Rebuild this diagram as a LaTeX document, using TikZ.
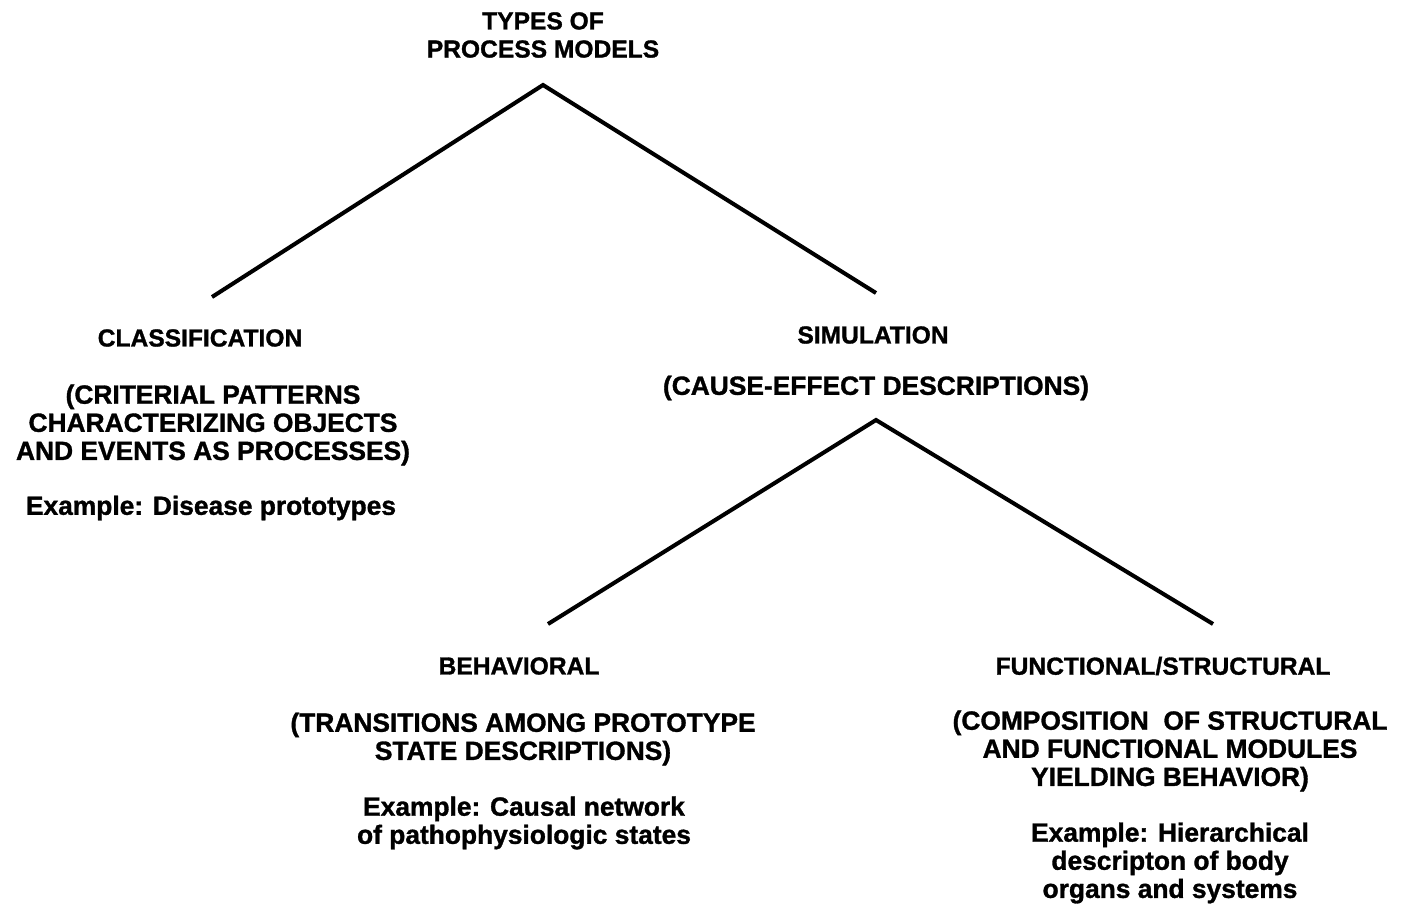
\documentclass[tikz,border=0pt]{standalone}
\usepackage{fontspec}
\setmainfont[BoldFeatures={FakeBold=1.2}]{Liberation Sans}
\begin{document}
\begin{tikzpicture}[x=0.02cm,y=-0.02cm,
        head/.style={font=\fontsize{14}{16}\selectfont\bfseries,align=center,inner sep=0pt},
        txt/.style={font=\fontsize{15}{16}\selectfont\bfseries,align=center,inner sep=0pt},
        branch/.style={line width=2.3pt,line join=miter}]
            \useasboundingbox (0,0) rectangle (1409,904);
            % title and first split
            \node[head] (title) at (543,35) {TYPES OF\\PROCESS MODELS};
            \coordinate (top) at (543,85);
            \coordinate (cl) at (212,297);
            \coordinate (cr) at (876,293);
            % classification
            \node[head] (class) at (200,338) {CLASSIFICATION};
            \node[txt] (classdesc) at (213,425) {(CRITERIAL PATTERNS\\CHARACTERIZING OBJECTS\\AND EVENTS AS PROCESSES)};
            \node[txt] (classex) at (211,508) {Example: Disease prototypes};
            % simulation and second split
            \node[head] (sim) at (873,335) {SIMULATION};
            \node[txt] (simdesc) at (876,388) {(CAUSE-EFFECT DESCRIPTIONS)};
            \coordinate (mid) at (876,420);
            \coordinate (bl) at (548,624);
            \coordinate (br) at (1213,624);
            % behavioral
            \node[head] (beh) at (519,666) {BEHAVIORAL};
            \node[txt] (behdesc) at (523,739) {(TRANSITIONS AMONG PROTOTYPE\\STATE DESCRIPTIONS)};
            \node[txt] (behex) at (524,823) {Example: Causal network\\of pathophysiologic states};
            % functional/structural
            \node[head] (fun) at (1163,666) {FUNCTIONAL/STRUCTURAL};
            \node[txt] (fundesc) at (1170,751) {(COMPOSITION\ \ OF STRUCTURAL\\AND FUNCTIONAL MODULES\\YIELDING BEHAVIOR)};
            \node[txt] (funex) at (1170,863) {Example: Hierarchical\\descripton of body\\organs and systems};
            \foreach \a/\l/\r in {top/cl/cr,mid/bl/br}
                \draw[branch] (\l) -- (\a) -- (\r);
        \end{tikzpicture}
\end{document}
